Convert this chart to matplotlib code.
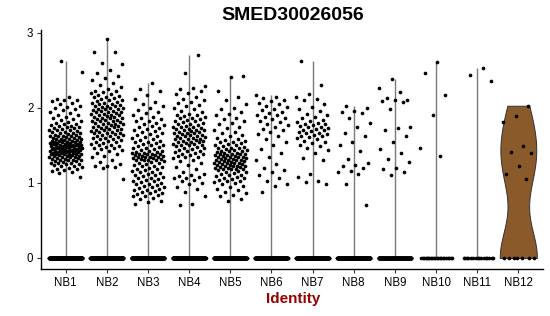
import numpy as np
import matplotlib
matplotlib.use('Agg')
import matplotlib.pyplot as plt

plt.rcParams['font.family'] = ['Liberation Sans', 'DejaVu Sans']

# ---------------- data ----------------
categories = ['NB1', 'NB2', 'NB3', 'NB4', 'NB5', 'NB6', 'NB7', 'NB8', 'NB9', 'NB10', 'NB11', 'NB12']

nb1 = [2.62, 2.48,
       2.14, 2.12, 2.11, 2.10, 2.09, 2.07, 2.05, 2.03, 2.01, 2.00, 1.99, 1.97, 1.95, 1.93, 1.91, 1.90, 1.88, 1.87,
       1.85, 1.84, 1.82, 1.81, 1.80, 1.79, 1.78, 1.77, 1.76, 1.76, 1.75, 1.74, 1.73, 1.73, 1.72, 1.71, 1.70, 1.70,
       1.69, 1.68, 1.68, 1.67, 1.66, 1.66, 1.65, 1.64, 1.64, 1.63, 1.63, 1.62, 1.62, 1.61, 1.61, 1.60, 1.60, 1.59,
       1.59, 1.58, 1.58, 1.57, 1.57, 1.56, 1.56, 1.56, 1.55, 1.55, 1.54, 1.54, 1.54, 1.53, 1.53, 1.53, 1.52, 1.52,
       1.52, 1.51, 1.51, 1.51, 1.50, 1.50, 1.50, 1.49, 1.49, 1.49, 1.48, 1.48, 1.48, 1.47, 1.47, 1.47, 1.46, 1.46,
       1.46, 1.45, 1.45, 1.45, 1.44, 1.44, 1.44, 1.43, 1.43, 1.43, 1.42, 1.42, 1.42, 1.41, 1.41, 1.41, 1.40, 1.40,
       1.40, 1.39, 1.39, 1.39, 1.38, 1.38, 1.38, 1.37, 1.37, 1.36, 1.36, 1.36, 1.35, 1.35, 1.34, 1.34, 1.33, 1.33,
       1.32, 1.32, 1.31, 1.31, 1.30, 1.30, 1.29, 1.29, 1.28, 1.27, 1.27, 1.26, 1.25, 1.25, 1.24, 1.23, 1.22, 1.21,
       1.20, 1.19, 1.18, 1.17, 1.16, 1.15, 1.13, 1.08]

nb2 = [2.92, 2.75, 2.74, 2.60, 2.58, 2.50, 2.46, 2.42, 2.40, 2.37, 2.33, 2.31, 2.28, 2.25, 2.23, 2.22, 2.21, 2.20,
       2.18, 2.17, 2.16, 2.15, 2.14, 2.13, 2.12, 2.11, 2.10, 2.09, 2.08, 2.07, 2.06, 2.05, 2.05, 2.04, 2.03, 2.02,
       2.02, 2.01, 2.00, 2.00, 1.99, 1.98, 1.98, 1.97, 1.96, 1.96, 1.95, 1.94, 1.94, 1.93, 1.92, 1.92, 1.91, 1.90,
       1.90, 1.89, 1.88, 1.88, 1.87, 1.86, 1.86, 1.85, 1.84, 1.84, 1.83, 1.82, 1.82, 1.81, 1.80, 1.80, 1.79, 1.78,
       1.78, 1.77, 1.76, 1.76, 1.75, 1.74, 1.74, 1.73, 1.72, 1.72, 1.71, 1.70, 1.70, 1.69, 1.68, 1.68, 1.67, 1.66,
       1.66, 1.65, 1.64, 1.64, 1.63, 1.62, 1.61, 1.60, 1.60, 1.59, 1.58, 1.57, 1.56, 1.55, 1.54, 1.53, 1.52, 1.51,
       1.50, 1.49, 1.48, 1.47, 1.46, 1.45, 1.44, 1.42, 1.40, 1.38, 1.36, 1.34, 1.31, 1.28, 1.25, 1.23, 1.22, 1.21,
       1.20, 1.05]

nb3 = [2.33, 2.25, 2.22, 2.17, 2.12, 2.08, 2.05, 2.02, 2.00, 1.97, 1.95, 1.93, 1.90, 1.88, 1.86, 1.85, 1.83, 1.82,
       1.80, 1.79, 1.77, 1.76, 1.75, 1.73, 1.72, 1.70, 1.69, 1.68, 1.66, 1.65, 1.64, 1.62, 1.61, 1.60, 1.58, 1.57,
       1.56, 1.55, 1.54, 1.53, 1.52, 1.51, 1.50, 1.49, 1.48, 1.47, 1.46, 1.45, 1.44, 1.43, 1.42, 1.41, 1.41, 1.40,
       1.40, 1.39, 1.39, 1.38, 1.38, 1.37, 1.37, 1.36, 1.36, 1.35, 1.35, 1.34, 1.34, 1.33, 1.33, 1.32, 1.32, 1.31,
       1.31, 1.30, 1.30, 1.29, 1.28, 1.27, 1.26, 1.25, 1.24, 1.23, 1.22, 1.21, 1.20, 1.19, 1.18, 1.17, 1.16, 1.15,
       1.14, 1.13, 1.12, 1.11, 1.10, 1.09, 1.08, 1.07, 1.06, 1.05, 1.04, 1.03, 1.02, 1.01, 1.00, 0.99, 0.98, 0.97,
       0.96, 0.95, 0.94, 0.93, 0.92, 0.91, 0.90, 0.89, 0.88, 0.87, 0.86, 0.85, 0.84, 0.83, 0.82, 0.80, 0.78, 0.76,
       0.74, 0.72]

nb4 = [2.70, 2.47, 2.29, 2.27, 2.25, 2.22, 2.20, 2.18, 2.15, 2.12, 2.10, 2.08, 2.06, 2.04, 2.02, 2.00, 1.98, 1.96,
       1.94, 1.92, 1.91, 1.90, 1.89, 1.88, 1.87, 1.86, 1.85, 1.84, 1.83, 1.82, 1.81, 1.80, 1.79, 1.78, 1.77, 1.76,
       1.75, 1.75, 1.74, 1.73, 1.72, 1.72, 1.71, 1.70, 1.70, 1.69, 1.68, 1.68, 1.67, 1.66, 1.66, 1.65, 1.64, 1.64,
       1.63, 1.62, 1.62, 1.61, 1.60, 1.60, 1.59, 1.58, 1.58, 1.57, 1.56, 1.56, 1.55, 1.54, 1.54, 1.53, 1.52, 1.52,
       1.51, 1.50, 1.50, 1.49, 1.48, 1.47, 1.46, 1.45, 1.44, 1.43, 1.42, 1.41, 1.40, 1.39, 1.38, 1.37, 1.36, 1.35,
       1.34, 1.33, 1.31, 1.29, 1.27, 1.24, 1.21, 1.18, 1.15, 1.12, 1.10, 1.09, 1.08, 1.07, 1.06, 1.04, 1.02, 1.00,
       0.98, 0.95, 0.92, 0.88, 0.82, 0.72, 0.70]

nb5 = [2.42, 2.41, 2.22, 2.15, 2.10, 2.05, 2.00, 1.98, 1.95, 1.92, 1.90, 1.87, 1.85, 1.82, 1.80, 1.78, 1.75, 1.73,
       1.70, 1.68, 1.66, 1.64, 1.62, 1.60, 1.58, 1.57, 1.56, 1.55, 1.54, 1.53, 1.52, 1.51, 1.50, 1.49, 1.48, 1.47,
       1.46, 1.46, 1.45, 1.44, 1.44, 1.43, 1.42, 1.42, 1.41, 1.40, 1.40, 1.39, 1.39, 1.38, 1.38, 1.37, 1.37, 1.36,
       1.36, 1.35, 1.35, 1.34, 1.34, 1.33, 1.33, 1.32, 1.32, 1.31, 1.31, 1.30, 1.30, 1.29, 1.29, 1.28, 1.28, 1.27,
       1.27, 1.26, 1.26, 1.25, 1.25, 1.24, 1.24, 1.23, 1.23, 1.22, 1.22, 1.21, 1.21, 1.20, 1.20, 1.19, 1.19, 1.18,
       1.18, 1.17, 1.16, 1.15, 1.14, 1.13, 1.12, 1.11, 1.10, 1.09, 1.08, 1.07, 1.06, 1.05, 1.04, 1.03, 1.02, 1.01,
       1.00, 0.98, 0.96, 0.94, 0.92, 0.90, 0.88, 0.86, 0.84, 0.82, 0.78, 0.76]

nb6 = [2.17, 2.15, 2.13, 2.11, 2.09, 2.07, 2.05, 2.03, 2.01, 1.99, 1.97, 1.95, 1.93, 1.91, 1.90, 1.88, 1.87, 1.85,
       1.83, 1.81, 1.79, 1.77, 1.75, 1.72, 1.70, 1.68, 1.65, 1.62, 1.58, 1.55, 1.50, 1.45, 1.40, 1.35, 1.30, 1.25,
       1.20, 1.17, 1.14, 1.10, 1.06, 1.02, 0.99, 0.96, 0.88]

nb7 = [2.62, 2.30, 2.18, 2.15, 2.12, 2.10, 2.05, 2.01, 1.99, 1.96, 1.92, 1.90, 1.88, 1.86, 1.84, 1.82, 1.81, 1.80,
       1.79, 1.78, 1.77, 1.76, 1.75, 1.74, 1.73, 1.72, 1.71, 1.70, 1.69, 1.68, 1.67, 1.66, 1.65, 1.64, 1.63, 1.62,
       1.61, 1.60, 1.58, 1.56, 1.55, 1.53, 1.51, 1.49, 1.47, 1.44, 1.40, 1.33, 1.30, 1.12, 1.08, 1.03, 1.01, 0.99]

nb8 = [2.02, 2.00, 1.96, 1.95, 1.93, 1.86, 1.80, 1.75, 1.67, 1.63, 1.55, 1.50, 1.43, 1.32, 1.27, 1.24, 1.23, 1.20,
       1.16, 1.14, 1.12, 0.99, 0.70]

nb9 = [2.38, 2.27, 2.21, 2.13, 2.11, 2.10, 2.09, 2.08, 1.98, 1.75, 1.73, 1.71, 1.63, 1.55, 1.45, 1.40, 1.32, 1.28,
       1.20, 1.18, 1.14, 1.11]

nb10 = [2.61, 2.47, 2.17, 1.90, 1.47, 1.36]
nb11 = [2.53, 2.44, 2.36]
nb12 = [2.03, 1.89, 1.81, 1.49, 1.41, 1.40, 1.23, 1.12, 1.05]

# number of cells with zero expression in each group
zero_counts = [320, 320, 300, 280, 300, 220, 220, 220, 180, 22, 16, 7]

nonzero = [nb1, nb2, nb3, nb4, nb5, nb6, nb7, nb8, nb9, nb10, nb11, nb12]
title = 'SMED30026056'
xlabel = 'Identity'

# ---------------- figure ----------------
W, H = 550, 316
fig = plt.figure(figsize=(W / 100, H / 100), dpi=100)
ax_left, ax_right, ax_bottom_px, ax_top_px = 41, 543, 269, 29.6
ax = fig.add_axes([ax_left / W, 1 - ax_bottom_px / H, (ax_right - ax_left) / W,
                   (ax_bottom_px - ax_top_px) / H])

GOLD = 0.6180339887
JIT = 0.40


def nrd0(x):
    x = np.asarray(x, float)
    hi = np.std(x, ddof=1)
    q75, q25 = np.percentile(x, [75, 25])
    lo = min(hi, (q75 - q25) / 1.34)
    if lo <= 0:
        lo = hi
    return 0.9 * lo * len(x) ** (-0.2)


for i, (cat, vals, nz) in enumerate(zip(categories, nonzero, zero_counts)):
    vals = np.asarray(vals, float)
    allv = np.concatenate([vals, np.zeros(nz)])
    vmax = allv.max()
    if i == len(categories) - 1:
        # smooth violin (few zeros)
        bw = nrd0(allv)
        grid = np.linspace(allv.min(), vmax, 512)
        dens = np.exp(-0.5 * ((grid[:, None] - allv[None, :]) / bw) ** 2).sum(axis=1)
        half = 0.45 * dens / dens.max()
        ax.fill_betweenx(grid, i - half, i + half, facecolor='#8B5A2B',
                         edgecolor='#333333', linewidth=0.7, zorder=1)
    else:
        # zero-dominated groups collapse to a thin line
        ax.plot([i, i], [0, vmax], color='#7a7a7a', linewidth=1.0, zorder=1,
                solid_capstyle='butt')

    # jittered points
    n = len(allv)
    u = (0.37 + np.arange(n) * GOLD + i * 0.13) % 1.0
    xs = i + (u - 0.5) * 2 * JIT
    ax.scatter(xs, allv, s=7, c='black', linewidths=0, zorder=3)

ax.set_xlim(-0.6, len(categories) - 1 + 0.6)
ax.set_ylim(-0.147, 3.045)
ax.set_xticks(range(len(categories)))
ax.set_xticklabels(categories)
ax.set_yticks([0, 1, 2, 3])
ax.set_yticklabels(['0', '1', '2', '3'])

for s in ['top', 'right']:
    ax.spines[s].set_visible(False)
for s in ['left', 'bottom']:
    ax.spines[s].set_linewidth(1.0)
    ax.spines[s].set_color('black')
ax.tick_params(axis='both', length=3, width=0.8, color='#333333', labelsize=8.3,
               labelcolor='black', pad=2.5)

fig.text(293 / W, 1 - 16 / H, title, ha='center', va='center', fontsize=14,
         fontweight='bold', color='black')
fig.text(293 / W, 1 - 299 / H, xlabel, ha='center', va='center', fontsize=11,
         fontweight='bold', color='#990000')

fig.savefig('out.png', dpi=100)
